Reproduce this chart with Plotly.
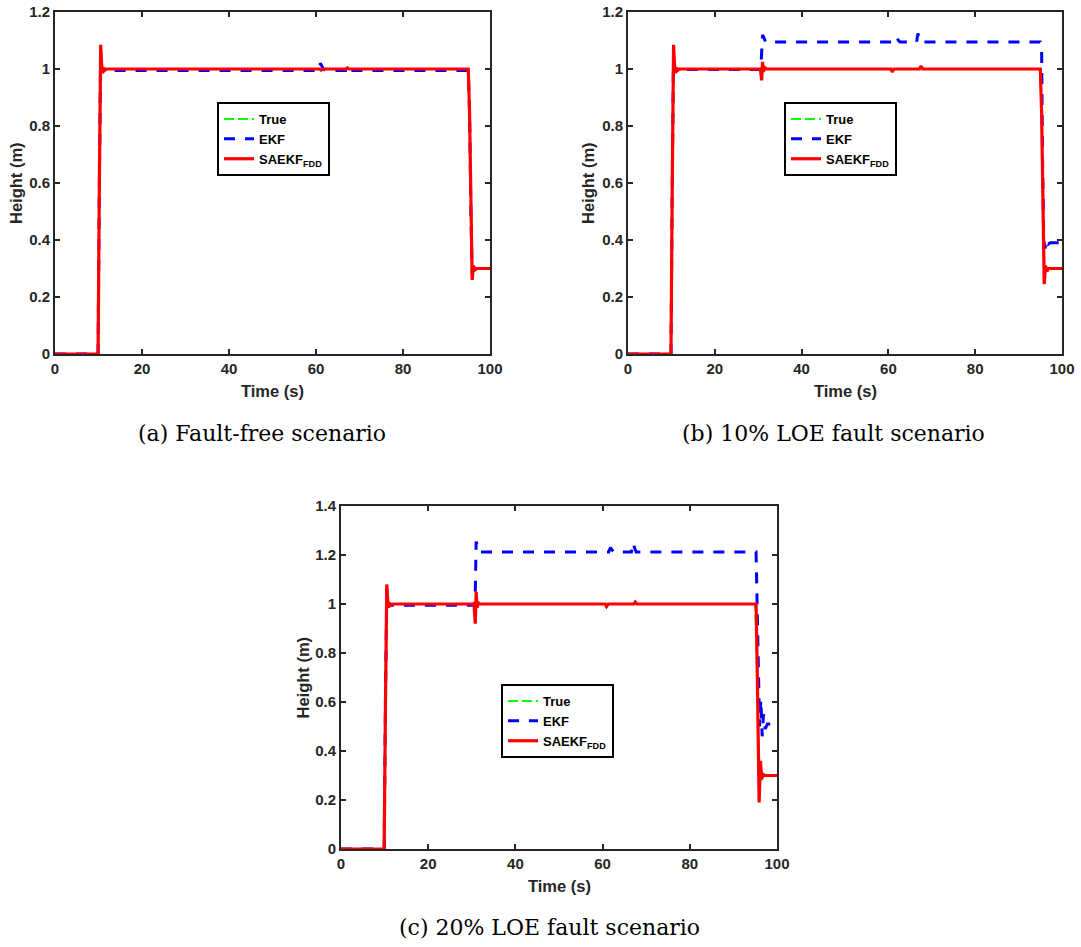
import plotly.graph_objects as go

W, H = 1081, 947

# ---------------- data ----------------
# Panel (a) fault-free
a_true_t = [0, 9.9, 10.2, 10.5, 10.7, 10.9, 11.1, 11.4, 11.8, 12.5, 95.0, 95.3, 95.6, 95.9, 96.2, 96.5, 96.9, 100]
a_true_y = [0, 0, 0.6, 1.08, 1.02, 0.985, 1.005, 0.995, 1.0, 1.0, 1.0, 0.85, 0.5, 0.27, 0.31, 0.295, 0.3, 0.3]
a_ekf_t = [0, 9.9, 10.2, 10.5, 10.7, 10.9, 11.2, 12.0, 60.8, 61.0, 61.3, 61.7, 62.2, 66.8, 67.1, 67.5, 95.0, 95.3, 95.6, 95.9, 96.2, 96.6, 100]
a_ekf_y = [0, 0, 0.6, 1.06, 1.01, 0.99, 0.995, 0.995, 0.995, 1.02, 1.01, 1.0, 0.995, 0.995, 1.008, 0.995, 0.995, 0.85, 0.5, 0.28, 0.305, 0.3, 0.3]
a_sa_t = [0, 9.9, 10.2, 10.5, 10.7, 10.9, 11.1, 11.4, 11.8, 12.5, 60.8, 61.2, 61.6, 66.8, 67.2, 67.6, 95.0, 95.3, 95.6, 95.9, 96.2, 96.5, 96.9, 100]
a_sa_y = [0, 0, 0.6, 1.085, 1.02, 0.985, 1.005, 0.995, 1.0, 1.0, 1.0, 0.996, 1.0, 1.0, 1.004, 1.0, 1.0, 0.85, 0.5, 0.26, 0.31, 0.295, 0.3, 0.3]

# Panel (b) 10% LOE
b_true_t = [0, 9.9, 10.2, 10.5, 10.7, 10.9, 11.1, 11.4, 11.8, 30.5, 30.8, 31.0, 31.2, 31.5, 31.9, 60.6, 60.9, 61.3, 67.2, 67.5, 67.9, 95.0, 95.3, 95.6, 95.9, 96.2, 96.5, 96.9, 100]
b_true_y = [0, 0, 0.6, 1.08, 1.02, 0.985, 1.005, 0.995, 1.0, 1.0, 0.97, 1.02, 0.99, 1.005, 1.0, 1.0, 0.993, 1.0, 1.0, 1.008, 1.0, 1.0, 0.85, 0.5, 0.26, 0.31, 0.295, 0.3, 0.3]
b_ekf_t = [0, 9.9, 10.2, 10.5, 10.7, 10.9, 11.2, 12.0, 30.6, 30.8, 31.0, 31.3, 31.7, 61.6, 62.0, 62.3, 62.7, 66.5, 66.8, 67.1, 67.5, 95.0, 95.3, 95.5, 95.8, 96.1, 96.4, 96.8, 97.3, 100]
b_ekf_y = [0, 0, 0.6, 1.06, 1.01, 0.99, 0.998, 0.998, 0.998, 1.06, 1.12, 1.11, 1.095, 1.095, 1.11, 1.10, 1.095, 1.095, 1.125, 1.11, 1.095, 1.095, 1.08, 0.7, 0.4, 0.37, 0.40, 0.385, 0.39, 0.39]
b_sa_t = [0, 9.9, 10.2, 10.5, 10.7, 10.9, 11.1, 11.4, 11.8, 30.5, 30.8, 31.0, 31.2, 31.5, 31.9, 60.6, 60.9, 61.3, 67.2, 67.5, 67.9, 95.0, 95.3, 95.6, 95.9, 96.2, 96.5, 96.9, 100]
b_sa_y = [0, 0, 0.6, 1.085, 1.02, 0.985, 1.005, 0.995, 1.0, 1.0, 0.96, 1.025, 0.99, 1.005, 1.0, 1.0, 0.99, 1.0, 1.0, 1.01, 1.0, 1.0, 0.85, 0.5, 0.245, 0.31, 0.29, 0.3, 0.3]

# Panel (c) 20% LOE
c_true_t = [0, 9.9, 10.2, 10.5, 10.7, 10.9, 11.1, 11.4, 11.8, 30.5, 30.8, 31.0, 31.2, 31.5, 31.9, 60.6, 60.9, 61.3, 67.2, 67.5, 67.9, 95.0, 95.3, 95.6, 95.9, 96.2, 96.5, 96.8, 97.2, 100]
c_true_y = [0, 0, 0.6, 1.07, 1.02, 0.985, 1.005, 0.995, 1.0, 1.0, 0.93, 1.04, 0.99, 1.005, 1.0, 1.0, 0.993, 1.0, 1.0, 1.01, 1.0, 1.0, 0.8, 0.45, 0.2, 0.35, 0.28, 0.305, 0.3, 0.3]
c_ekf_t = [0, 9.9, 10.2, 10.5, 10.7, 10.9, 11.2, 12.0, 30.6, 30.8, 31.0, 31.3, 31.7, 61.4, 61.8, 62.2, 62.6, 66.6, 67.0, 67.3, 67.7, 95.2, 95.4, 95.7, 96.0, 96.3, 96.6, 96.9, 97.3, 97.8, 100]
c_ekf_y = [0, 0, 0.6, 1.06, 1.01, 0.99, 0.995, 0.995, 0.995, 1.05, 1.255, 1.235, 1.212, 1.212, 1.23, 1.22, 1.212, 1.212, 1.25, 1.23, 1.212, 1.212, 1.0, 0.7, 0.5, 0.61, 0.46, 0.55, 0.49, 0.51, 0.51]
c_sa_t = [0, 9.9, 10.2, 10.5, 10.7, 10.9, 11.1, 11.4, 11.8, 30.5, 30.8, 31.0, 31.2, 31.5, 31.9, 60.6, 60.9, 61.3, 67.2, 67.5, 67.9, 95.2, 95.5, 95.7, 95.9, 96.2, 96.5, 96.8, 97.2, 100]
c_sa_y = [0, 0, 0.6, 1.08, 1.02, 0.985, 1.005, 0.995, 1.0, 1.0, 0.92, 1.05, 0.985, 1.005, 1.0, 1.0, 0.99, 1.0, 1.0, 1.008, 1.0, 1.0, 0.7, 0.35, 0.19, 0.36, 0.285, 0.305, 0.3, 0.3]

x_ticks = [0, 20, 40, 60, 80, 100]
x_ticktext = ["0", "20", "40", "60", "80", "100"]
y_ticks_ab = [0, 0.2, 0.4, 0.6, 0.8, 1.0, 1.2]
y_ticktext_ab = ["0", "0.2", "0.4", "0.6", "0.8", "1", "1.2"]
y_ticks_c = [0, 0.2, 0.4, 0.6, 0.8, 1.0, 1.2, 1.4]
y_ticktext_c = ["0", "0.2", "0.4", "0.6", "0.8", "1", "1.2", "1.4"]

series_names = ["True", "EKF", "SAEKF<sub>FDD</sub>"]
captions = ["(a) Fault-free scenario", "(b) 10% LOE fault scenario", "(c) 20% LOE fault scenario"]

# ---------------- layout helpers ----------------
def px_x(p):
    return p / W

def px_y(p):
    return 1 - p / H

panels = [
    dict(x0=55, x1=490, y0=12, y1=354, ymax=1.2, yt=y_ticks_ab, ytt=y_ticktext_ab,
         data=[(a_true_t, a_true_y), (a_ekf_t, a_ekf_y), (a_sa_t, a_sa_y)],
         leg=(217, 102), ylab_x=16, cap=(262, 433)),
    dict(x0=628, x1=1062, y0=12, y1=354, ymax=1.2, yt=y_ticks_ab, ytt=y_ticktext_ab,
         data=[(b_true_t, b_true_y), (b_ekf_t, b_ekf_y), (b_sa_t, b_sa_y)],
         leg=(784, 102), ylab_x=588, cap=(833, 433)),
    dict(x0=341, x1=777, y0=506, y1=849, ymax=1.4, yt=y_ticks_c, ytt=y_ticktext_c,
         data=[(c_true_t, c_true_y), (c_ekf_t, c_ekf_y), (c_sa_t, c_sa_y)],
         leg=(501, 684), ylab_x=302, cap=(549, 927)),
]

styles = [
    dict(color="#00ff00", width=2, dash="10px,4px"),
    dict(color="#0000ff", width=3, dash="11px,10px"),
    dict(color="#ff0000", width=3.2, dash="solid"),
]

axcol = "#262626"
tickfont = dict(family="Liberation Sans", size=15, color=axcol, weight="bold")

fig = go.Figure()
annotations = []
layout = dict(width=W, height=H, margin=dict(l=0, r=0, t=0, b=0, autoexpand=False),
              paper_bgcolor="white", plot_bgcolor="white", showlegend=True)

for i, p in enumerate(panels):
    n = "" if i == 0 else str(i + 1)
    xa, ya = "x" + n, "y" + n
    legname = "legend" if i == 0 else "legend" + str(i + 1)
    for j, (tt, yy) in enumerate(p["data"]):
        fig.add_trace(go.Scatter(x=tt, y=yy, mode="lines", name=series_names[j],
                                 line=styles[j], xaxis=xa, yaxis=ya, legend=legname))
    common = dict(showgrid=False, zeroline=False, showline=True, linecolor=axcol, linewidth=2,
                  mirror="ticks", ticks="inside", ticklen=5, tickwidth=2, tickcolor=axcol,
                  tickfont=tickfont, automargin=False)
    layout["xaxis" + n] = dict(common, domain=[px_x(p["x0"]), px_x(p["x1"])], range=[0, 100],
                               tickvals=x_ticks, ticktext=x_ticktext, anchor=ya)
    layout["yaxis" + n] = dict(common, domain=[px_y(p["y1"]), px_y(p["y0"])], range=[0, p["ymax"]],
                               tickvals=p["yt"], ticktext=p["ytt"], anchor=xa)
    layout[legname] = dict(x=px_x(p["leg"][0]), y=px_y(p["leg"][1]), xanchor="left", yanchor="top",
                           bordercolor="#000000", borderwidth=2, bgcolor="white",
                           font=dict(family="Liberation Sans", size=13, color="#000000", weight="bold"),
                           tracegroupgap=0, itemwidth=30)
    # axis titles
    annotations.append(dict(text="<b>Height (m)</b>", x=px_x(p["ylab_x"]), y=px_y((p["y0"] + p["y1"]) / 2),
                            xref="paper", yref="paper", showarrow=False, textangle=-90,
                            xanchor="center", yanchor="middle",
                            font=dict(family="Liberation Sans", size=16.5, color=axcol)))
    annotations.append(dict(text="<b>Time (s)</b>", x=px_x((p["x0"] + p["x1"]) / 2), y=px_y(p["y1"] + 37),
                            xref="paper", yref="paper", showarrow=False,
                            xanchor="center", yanchor="middle",
                            font=dict(family="Liberation Sans", size=16.5, color=axcol)))
    annotations.append(dict(text=captions[i], x=px_x(p["cap"][0]), y=px_y(p["cap"][1]),
                            xref="paper", yref="paper", showarrow=False,
                            xanchor="center", yanchor="middle",
                            font=dict(family="DejaVu Serif", size=22, color="#000000")))

layout["annotations"] = annotations
fig.update_layout(**layout)
fig.write_html("out.html")
